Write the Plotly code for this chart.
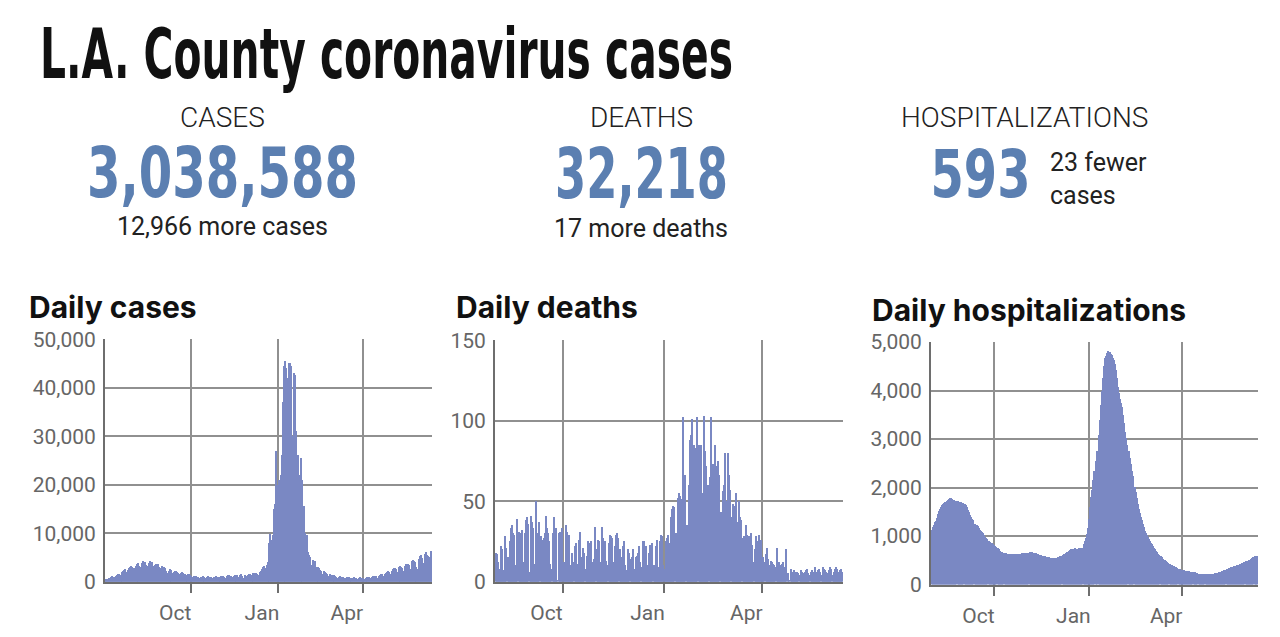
import pandas as pd
import plotly.graph_objects as go

# ---------------- data ----------------
cases_start = "2021-07-02"
cases_values = (
    # Jul 2-31
    [550, 620, 480, 300, 700, 820, 900, 1050, 900, 600, 850, 1100, 1300, 1500, 1650, 1400, 1000, 1700, 1900, 2100,
     2300, 2500, 2000, 1600, 2400, 2700, 2900, 3100, 3000, 2600]
    # Aug
    + [2700, 2200, 3300, 3600, 3700, 3900, 3100, 2500, 3000, 3800, 4200, 4000, 4100, 3400, 2600, 3300, 3900, 4300,
       3800, 4000, 3300, 2400, 3000, 3500, 3700, 3400, 3600, 2900, 2300, 2700, 3200]
    # Sep
    + [3000, 2900, 2700, 2200, 1700, 1500, 2100, 2600, 2500, 2300, 1800, 1400, 2000, 2200, 2100, 1900, 1800, 1500,
       1200, 1700, 1900, 1800, 1600, 1500, 1300, 1000, 1400, 1600, 1500, 1300]
    # Oct
    + [1200, 1000, 700, 1100, 1200, 1150, 1000, 950, 800, 650, 900, 1000, 1100, 950, 900, 750, 600, 950, 1050, 1000,
       900, 850, 700, 550, 900, 1000, 1050, 900, 850, 700, 600]
    # Nov
    + [950, 1100, 1200, 1100, 1000, 800, 700, 1100, 1300, 1250, 900, 1100, 900, 750, 1200, 1400, 1350, 1300, 1250,
       1000, 850, 1300, 1500, 1200, 700, 600, 1400, 1100, 1000, 1300]
    # Dec 1-18
    + [1500, 1600, 1400, 1100, 900, 1700, 1500, 1800, 1700, 1600, 1300, 1100, 1900, 2100, 2500, 3000, 3300, 2400]
    # Dec 19 - Feb 7
    + [2700, 3500, 4000, 6500, 8000, 9800, 3000, 8500, 9500, 15000, 16000, 27000, 20000, 14000, 21000, 17000, 22000,
       26000, 37000, 44500, 43500, 45500, 44000, 25000, 42000, 45000, 45000, 44500, 23000, 30000, 43000, 42500,
       31000, 26000, 26000, 22000, 19000, 25500, 21500, 21000, 15000, 15500, 10000, 7500, 9500, 6000, 5500, 5000,
       3500, 3000, 4500]
    # Feb 8-28
    + [3800, 4200, 3000, 2500, 2000, 3000, 2800, 2400, 2200, 1600, 1200, 2200, 2000, 1800, 1500, 1100, 900, 1500,
       1400, 1300, 1200]
    # Mar
    + [1200, 1300, 1100, 1000, 800, 600, 900, 1100, 1000, 900, 850, 650, 500, 800, 950, 900, 850, 800, 600, 450,
       700, 800, 900, 800, 750, 550, 400, 700, 850, 800, 750]
    # Apr
    + [800, 600, 450, 750, 900, 950, 900, 850, 650, 500, 900, 1100, 1200, 1100, 1050, 800, 600, 1200, 1400, 1500,
       1600, 1500, 1100, 900, 1600, 1800, 2000, 2100, 1900, 1500]
    # May
    + [1300, 2200, 2600, 2800, 2700, 2500, 1900, 1700, 2900, 3200, 3100, 3000, 2800, 2200, 1900, 3300, 3600, 3500,
       3600, 3400, 2600, 2200, 4200, 4400, 4300, 4100, 3900, 3000, 2400, 2500, 4600]
    # Jun 1-13
    + [5200, 5400, 4800, 3800, 3200, 5600, 6000, 5500, 5300, 5000, 4000, 6200, 4100]
)

deaths_start = "2021-08-01"
deaths_values = (
    [18, 17, 12, 6, 8, 22, 20, 5, 7, 28, 21, 15, 6, 25, 33, 35, 30, 29, 10, 5, 39, 31, 30, 28, 32, 10, 12, 30, 38,
     40, 36]
    + [6, 41, 37, 33, 11, 8, 50, 30, 25, 37, 28, 26, 7, 27, 30, 41, 33, 30, 25, 11, 8, 30, 40, 32, 33, 1, 0, 30, 31,
       28]
    + [33, 12, 8, 35, 31, 28, 29, 10, 6, 18, 12, 22, 24, 11, 9, 26, 31, 15, 10, 21, 18, 8, 16, 25, 23, 24, 25, 12,
       7, 14, 34]
    + [20, 26, 25, 12, 9, 34, 27, 20, 25, 13, 10, 24, 29, 28, 27, 12, 8, 22, 29, 30, 27, 20, 8, 15, 22, 25, 10, 5,
       7, 20]
    + [18, 14, 15, 20, 8, 6, 15, 16, 18, 22, 12, 9, 25, 25, 20, 22, 10, 8, 18, 23, 21, 24, 10, 7, 22, 26, 9, 6, 25,
       29, 28]
    + [10, 8, 25, 27, 29, 24, 11, 40, 45, 47, 46, 30, 20, 52, 55, 53, 51, 40, 102, 65, 66, 35, 28, 60, 88, 91, 101,
       40, 85, 80, 83]
    + [102, 85, 84, 85, 50, 55, 103, 81, 72, 3, 60, 65, 102, 58, 73, 70, 85, 35, 72, 75, 66, 43, 1, 56, 60, 80, 50,
       45]
    + [80, 66, 57, 40, 48, 47, 38, 55, 30, 37, 50, 40, 38, 27, 28, 26, 35, 29, 24, 28, 25, 30, 23, 12, 20, 28, 14,
       25, 29, 10, 26]
    + [8, 15, 12, 17, 21, 14, 10, 9, 13, 12, 11, 10, 9, 21, 8, 12, 10, 7, 11, 12, 9, 6, 20, 5, 1, 0, 8, 6, 5, 7]
    + [6, 5, 6, 5, 4, 7, 6, 5, 5, 6, 7, 8, 5, 4, 6, 7, 6, 5, 9, 6, 5, 7, 8, 6, 4, 9, 8, 7, 6, 5, 4]
    + [7, 9, 8, 4, 6, 8, 9, 8, 3, 6, 7, 8, 6]
)

hosp_start = "2021-08-01"
hosp_values = (
    [1130, 1180, 1230, 1280, 1300, 1380, 1450, 1520, 1560, 1600, 1630, 1660, 1680, 1700, 1710, 1730, 1750, 1760,
     1775, 1780, 1770, 1750, 1740, 1730, 1720, None, 1720, 1710, 1700, 1700, 1690]
    + [1680, 1660, 1630, 1590, 1540, 1490, 1440, 1400, 1360, 1320, None, 1250, 1230, 1220, 1200, 1160, 1130, 1100,
       1090, 1060, 1020, 980, 950, 930, None, 890, 870, 860, 850, 830]
    + [810, 790, 770, 750, 730, 700, 680, 665, 655, None, 645, 640, 635, 630, 630, 625, 630, 630, 628, 632, 630, 625,
       620, 620, 625, 630, 635, 640, 640, 645, 640]
    + [645, 650, 655, 660, 660, 660, 655, 650, 645, 640, 630, 620, 610, 605, 600, 596, 590, 585, 580, 575, 570, 565,
       560, 555, 550, 548, 545, 543, 542, 545]
    + [550, 560, 570, 580, 595, 610, 620, 630, 640, 660, 680, 700, 715, 725, 730, 735, 740, 745, 740, 735, 740, 745,
       750, 755, 760, None, 840, 894, 960, 1050, 1158]
    + [1350, 1600, 1800, 1950, 2150, 2350, 2550, 2750, None, 3080, 3400, 3700, 4000, 4250, 4500, 4660, 4720, 4780,
       4810, 4800, 4790, 4760, 4730, 4680, 4620, 4540, 4420, 4250, 4070, 3950, 3820]
    + [3750, 3670, 3500, 3320, 3150, 3020, 2880, 2750, 2610, 2480, 2350, 2240, None, 2020, 1900, 1780, 1660, 1560,
       1480, 1400, 1320, 1250, 1180, 1100, 1060, 1020, 980, 940]
    + [900, 860, 827, 790, 760, 725, 695, 660, 630, 605, 580, 560, 535, 515, 497, 480, 465, 450, None, 420, 410, 397,
       385, 375, 365, 352, 340, None, 322, 315, 308]
    + [302, 295, 290, 285, 280, 276, 272, 270, 267, 265, 262, 258, 250, 240, 230, None, 218, 215, 213, 212, 210, 208,
       None, 212, 214, 212, 213, 215, 218, 220]
    + [222, 225, 228, 232, 238, 245, 252, 260, 268, 276, 284, 290, 298, 310, 322, 335, 345, 355, 364, 370, 376, 382,
       388, 393, 397, 405, 415, 425, 436, 448, 458]
    + [None, 475, 485, 495, 505, 515, 530, 545, 560, None, 580, 590, 593]
)

title_text = "L.A. County coronavirus cases"
stat_labels = ["CASES", "DEATHS", "HOSPITALIZATIONS"]
stat_totals = ["3,038,588", "32,218", "593"]
stat_changes = ["12,966 more cases", "17 more deaths", "23 fewer<br>cases"]
panel_titles = ["Daily cases", "Daily deaths", "Daily hospitalizations"]
month_ticks = ["2021-10-01", "2022-01-01", "2022-04-01"]
month_labels = ["Oct", "Jan", "Apr"]

cases_dates = pd.date_range(cases_start, periods=len(cases_values), freq="D")
deaths_dates = pd.date_range(deaths_start, periods=len(deaths_values), freq="D")
hosp_dates = pd.date_range(hosp_start, periods=len(hosp_values), freq="D")

# ---------------- layout helpers ----------------
W, H = 1280, 637
def px(x):
    return x / W
def py(y):
    return 1 - y / H

BAR = "#7a88c3"
BLUE = "#5b7fb1"
GRID = "#909090"
AXIS = "#6e6e6e"
TICKFONT = dict(family="Roboto, sans-serif", size=21, color="#666666")

fig = go.Figure()
fig.add_trace(go.Bar(x=cases_dates, y=cases_values, marker=dict(color=BAR, line=dict(width=0)),
                     xaxis="x", yaxis="y", hoverinfo="x+y"))
fig.add_trace(go.Bar(x=deaths_dates, y=deaths_values, marker=dict(color=BAR, line=dict(width=0)),
                     xaxis="x2", yaxis="y2", hoverinfo="x+y"))
fig.add_trace(go.Bar(x=hosp_dates, y=hosp_values, marker=dict(color=BAR, line=dict(width=0)),
                     xaxis="x3", yaxis="y3", hoverinfo="x+y"))

def xaxis(domain, rng, anchor):
    return dict(domain=domain, anchor=anchor, type="date", range=rng,
                tickvals=month_ticks, ticktext=month_labels, tickfont=TICKFONT,
                showgrid=True, gridcolor=GRID, gridwidth=1.6,
                showline=True, linecolor=AXIS, linewidth=2,
                ticks="outside", ticklen=9, tickwidth=2, tickcolor=AXIS,
                ticklabelshift=-16, ticklabelstandoff=2, zeroline=False, fixedrange=True)

def yaxis(domain, rng, dtick, anchor):
    return dict(domain=domain, anchor=anchor, range=rng, dtick=dtick, tickformat=",",
                tickfont=TICKFONT, showgrid=True, gridcolor=GRID, gridwidth=1.6,
                showline=True, linecolor=AXIS, linewidth=2, ticks="", ticklabelstandoff=3,
                zeroline=False, fixedrange=True)

fig.update_layout(
    width=W, height=H, margin=dict(l=0, r=0, t=0, b=0),
    paper_bgcolor="white", plot_bgcolor="white",
    showlegend=False, bargap=0,
    xaxis=xaxis([px(105), px(432)], ["2021-07-01 12:00", "2022-06-13 12:00"], "y"),
    yaxis=yaxis([py(592), py(340)], [0, 50000], 10000, "x"),
    xaxis2=xaxis([px(495), px(843)], ["2021-07-31 12:00", "2022-06-13 12:00"], "y2"),
    yaxis2=yaxis([py(592), py(341)], [0, 150], 50, "x2"),
    xaxis3=xaxis([px(931), px(1258)], ["2021-07-31 12:00", "2022-06-13 12:00"], "y3"),
    yaxis3=yaxis([py(595), py(343)], [0, 5000], 1000, "x3"),
)

ann = []
def text(x, y, s, size, family, color="#111111", weight=400, xanchor="center", width=None):
    a = dict(x=px(x), y=py(y), xref="paper", yref="paper", text=s, showarrow=False,
             xanchor=xanchor, yanchor="middle", align=xanchor,
             font=dict(family=family, size=size, color=color, weight=weight))
    if width:
        a["width"] = width
    ann.append(a)

COND_FONT = "DejaVu Sans Condensed, DejaVu Sans, sans-serif"
text(38, 44, title_text, 70, COND_FONT, "#111111", 700, "left", width=698)

LABEL_FONT = "Roboto, sans-serif"
for cx, lab in zip([222, 641, 1024], stat_labels):
    text(cx, 110, lab, 28, LABEL_FONT, "#222222", 300)
text(222, 167, stat_totals[0], 70, COND_FONT, BLUE, 700, width=275)
text(641, 168, stat_totals[1], 70, COND_FONT, BLUE, 700, width=177)
text(980, 169, stat_totals[2], 66, COND_FONT, BLUE, 700, width=103)
text(222, 223, stat_changes[0], 25, LABEL_FONT, "#222222", 400)
text(641, 225, stat_changes[1], 25, LABEL_FONT, "#222222", 400)
text(1048, 174, stat_changes[2], 25, LABEL_FONT, "#222222", 400, "left")

PANEL_FONT = "Inter, Roboto, sans-serif"
text(27, 307, panel_titles[0], 30, PANEL_FONT, "#111111", 700, "left")
text(454, 307, panel_titles[1], 30, PANEL_FONT, "#111111", 700, "left")
text(870, 310, panel_titles[2], 30, PANEL_FONT, "#111111", 700, "left")

fig.update_layout(annotations=ann)

# condensed look for the headline and the big numbers (text stays real SVG text)
squeeze_js = """
var gd = document.getElementById('{plot_id}');
var widths = {"L.A. County coronavirus cases": 693, "3,038,588": 271, "32,218": 173, "593": 100};
function squeeze() {
  gd.querySelectorAll('text.annotation-text').forEach(function (t) {
    var w = widths[t.textContent];
    if (w) { t.setAttribute('textLength', w); t.setAttribute('lengthAdjust', 'spacingAndGlyphs'); }
  });
}
squeeze();
gd.on('plotly_afterplot', squeeze);
"""
fig.write_html("out.html", config={"displayModeBar": False}, post_script=squeeze_js)
